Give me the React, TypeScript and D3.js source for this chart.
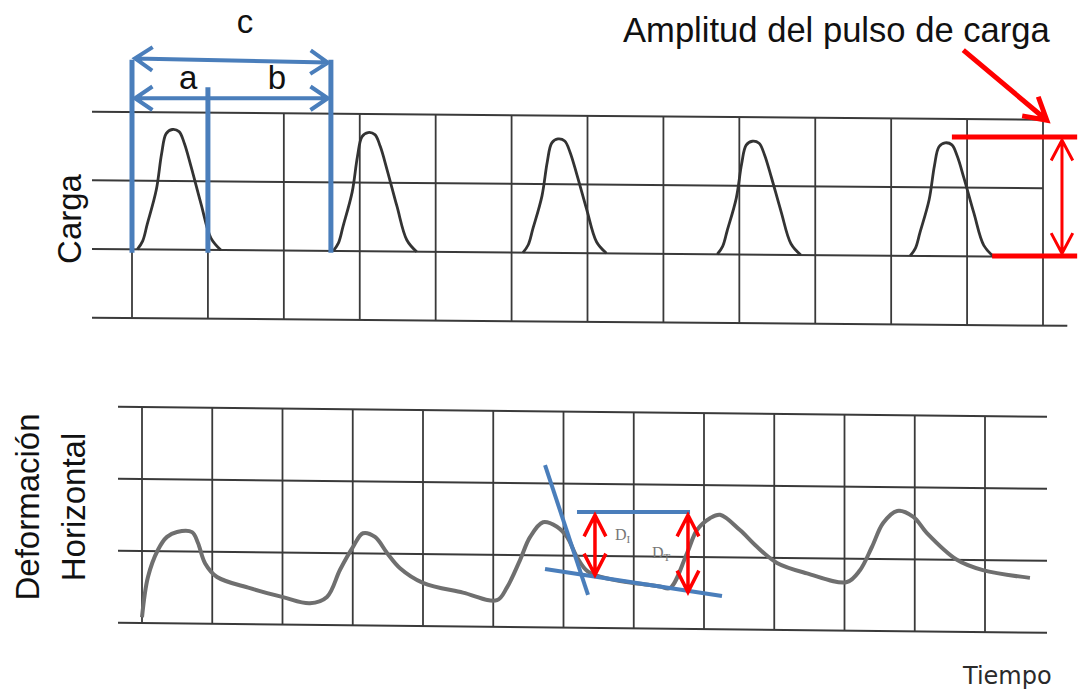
import * as d3 from "d3";

const W = 1079;
const H = 693;

// top panel (Carga): time and load in grid divisions, baseline = 0
const topCols = d3.range(0, 13);
const topRows = [-1, 0, 1, 2];
const topRowEnds = [12.32, 12.0, 12.0, 12.0];
const pulseStarts = [0.07, 2.65, 5.15, 7.71, 10.25];
const pulseAmps = [1.75, 1.73, 1.66, 1.65, 1.65];
const pulseT = [0, 0.07, 0.13, 0.25, 0.32, 0.38, 0.46, 0.55, 0.62, 0.71, 0.84, 0.97, 1.1];
const pulseV = [0, 0.12, 0.36, 0.86, 1.38, 1.67, 1.73, 1.7, 1.53, 1.19, 0.66, 0.17, 0];

// bottom panel (Deformación horizontal)
const botCols = d3.range(0, 13);
const botRows = [0, 1, 2, 3];
const deformT = [
  0, 0.085, 0.228, 0.356, 0.498, 0.712, 0.797, 0.897, 1.068, 1.537, 2.007, 2.391,
  2.633, 2.819, 3.004, 3.146, 3.317, 3.488, 3.673, 4.0, 4.569, 5.053, 5.196, 5.381,
  5.523, 5.708, 5.907, 6.05, 6.192, 6.349, 6.662, 7.089, 7.374, 7.516, 7.758, 7.9,
  8.085, 8.228, 8.512, 8.754, 9.039, 9.466, 10.036, 10.22, 10.39, 10.55, 10.75, 10.98,
  11.17, 11.6, 11.97, 12.64,
];
const deformV = [
  0.08, 0.64, 1.02, 1.2, 1.27, 1.27, 1.12, 0.84, 0.65, 0.5, 0.38, 0.3,
  0.39, 0.77, 1.09, 1.28, 1.23, 1.01, 0.8, 0.6, 0.47, 0.37, 0.55, 0.93,
  1.25, 1.46, 1.4, 1.26, 0.98, 0.78, 0.68, 0.62, 0.585, 0.565, 1.05, 1.375,
  1.54, 1.59, 1.38, 1.15, 0.93, 0.79, 0.675, 0.84, 1.165, 1.5, 1.67, 1.59,
  1.37, 1.0, 0.86, 0.76,
];

// annotations (panel units)
const cycleMarks = [0, 1, 2.62];
const cycleTops = [2.76, 2.36, 2.76];
const cycleLabels = ["c", "a", "b"];
const labelT = [1.49, 0.74, 1.91];
const labelV = [3.15, 2.33, 2.33];

type P = [number, number];

function chevron(tip: P, from: P, len: number, ang: number) {
  const a = Math.atan2(from[1] - tip[1], from[0] - tip[0]);
  const r = (ang * Math.PI) / 180;
  const p1 = [tip[0] + len * Math.cos(a + r), tip[1] + len * Math.sin(a + r)];
  const p2 = [tip[0] + len * Math.cos(a - r), tip[1] + len * Math.sin(a - r)];
  return `M${p1[0]},${p1[1]}L${tip[0]},${tip[1]}L${p2[0]},${p2[1]}`;
}

function arrow(a: P, b: P, len: number, ang: number, both: boolean) {
  let d = `M${a[0]},${a[1]}L${b[0]},${b[1]}`;
  d += chevron(b, a, len, ang);
  if (both) d += chevron(a, b, len, ang);
  return d;
}

export default function App() {
  const tx = d3.scaleLinear().domain([0, 12]).range([132, 1043]);
  const ty = d3.scaleLinear().domain([-1, 2]).range([318, 112]);
  const topTilt = 0.0084;
  const tp = (t: number, v: number): P => {
    const x = tx(t);
    return [x, ty(v) + topTilt * (x - tx(0))];
  };

  const bx = d3.scaleLinear().domain([0, 12]).range([142, 985]);
  const by = d3.scaleLinear().domain([0, 3]).range([623, 407]);
  const botTilt = 0.0108;
  const bp = (t: number, v: number): P => {
    const x = bx(t);
    return [x, by(v) + botTilt * (x - bx(0))];
  };

  const line = d3.line<P>().curve(d3.curveCatmullRom.alpha(0.5));
  const seg = (a: P, b: P) => `M${a[0]},${a[1]}L${b[0]},${b[1]}`;

  const gridColor = "#3a3a3a";
  const blue = "#4a7ebb";
  const red = "#ff0000";
  const sans = "'Liberation Sans', Arial, sans-serif";

  const pulses = pulseStarts.map((s, i) =>
    line(pulseT.map((t, j) => tp(s + t, (pulseV[j] * pulseAmps[i]) / 1.73)))
  );
  const deform = line(deformT.map((t, i) => bp(t, deformV[i])));

  const tP = (t: number, v: number): P => [tx(t), ty(v)];
  const bP = (t: number, v: number): P => [bx(t), by(v)];

  return (
    <svg
      width={W}
      height={H}
      style={{ position: "absolute", left: 0, top: 0, background: "#fff" }}
    >
      {/* top grid */}
      <g stroke={gridColor} strokeWidth={2} fill="none">
        {topRows.map((v, i) => (
          <path key={"tr" + i} d={seg(tp(tx.invert(92), v), tp(topRowEnds[i], v))} />
        ))}
        {topCols.map((t) => (
          <path key={"tc" + t} d={seg(tp(t, 2), tp(t, -1))} strokeWidth={1.8} />
        ))}
      </g>
      <g stroke="#333" strokeWidth={2.8} fill="none" strokeLinejoin="round">
        {pulses.map((d, i) => (
          <path key={"p" + i} d={d || ""} />
        ))}
      </g>

      {/* bottom grid */}
      <g stroke={gridColor} strokeWidth={2} fill="none">
        {botRows.map((v) => (
          <path key={"br" + v} d={seg(bp(bx.invert(118), v), bp(bx.invert(1047), v))} />
        ))}
        {botCols.map((t) => (
          <path key={"bc" + t} d={seg(bp(t, 3), bp(t, 0))} strokeWidth={1.8} />
        ))}
      </g>
      <path d={deform || ""} stroke="#6f6f6f" strokeWidth={4} fill="none" strokeLinejoin="round" />

      {/* cycle annotation (blue) */}
      <g stroke={blue} fill="none" strokeLinecap="butt">
        {cycleMarks.map((t, i) => (
          <path key={"cm" + i} d={seg(tP(t, cycleTops[i]), tP(t, -0.05))} strokeWidth={5} />
        ))}
        <path d={arrow(tP(0.04, 2.78), tP(2.58, 2.72), 21, 34, true)} strokeWidth={4} />
        <path d={arrow(tP(0.04, 2.2), tP(2.58, 2.2), 21, 34, true)} strokeWidth={4} />
      </g>
      {cycleLabels.map((s, i) => (
        <text
          key={"cl" + i}
          x={tx(labelT[i])}
          y={ty(labelV[i])}
          textAnchor="middle"
          fontFamily={sans}
          fontSize={33}
          fill="#111"
        >
          {s}
        </text>
      ))}

      {/* amplitude annotation (red) */}
      <g stroke={red} fill="none">
        <path d={seg(tP(10.8, 1.635), tP(12.45, 1.635))} strokeWidth={5} />
        <path d={seg(tP(11.33, -0.098), tP(12.45, -0.098))} strokeWidth={5} />
        <path d={arrow(tP(12.25, 1.59), tP(12.25, -0.06), 23, 28, true)} strokeWidth={3} />
        <path d={arrow(tP(10.95, 2.9), tP(12.05, 1.88), 25, 30, false)} strokeWidth={5} />
      </g>
      <text x={tx(6.468)} y={ty(3.02)} fontFamily={sans} fontSize={34.6} fill="#111">
        Amplitud del pulso de carga
      </text>

      {/* deformation annotation */}
      <g stroke={blue} fill="none" strokeWidth={4}>
        <path d={seg(bP(5.737, 2.194), bP(6.349, 0.389))} />
        <path d={seg(bP(6.192, 1.542), bP(7.801, 1.542))} />
        <path d={seg(bP(5.737, 0.75), bP(8.256, 0.375))} />
      </g>
      <g stroke={red} fill="none" strokeWidth={3.5}>
        <path d={arrow(bP(6.448, 1.5), bP(6.448, 0.667), 24, 27, true)} />
        <path d={arrow(bP(7.772, 1.5), bP(7.772, 0.43), 24, 27, true)} />
      </g>
      <g fontFamily="'Liberation Serif', serif" fontSize={16} fill="#777">
        <text x={bx(6.733)} y={by(1.15)}>
          D<tspan fontSize={11} dy={3}>I</tspan>
        </text>
        <text x={bx(7.26)} y={by(0.9)}>
          D<tspan fontSize={11} dy={3}>T</tspan>
        </text>
      </g>

      {/* axis labels */}
      <text
        transform="translate(81,219) rotate(-90)"
        textAnchor="middle"
        fontFamily={sans}
        fontSize={33}
        fill="#111"
      >
        Carga
      </text>
      <text
        transform="translate(39,507) rotate(-90)"
        textAnchor="middle"
        fontFamily={sans}
        fontSize={33}
        fill="#111"
      >
        Deformación
      </text>
      <text
        transform="translate(85,507) rotate(-90)"
        textAnchor="middle"
        fontFamily={sans}
        fontSize={33}
        fill="#111"
      >
        Horizontal
      </text>
      <text x={963} y={684} fontFamily="'DejaVu Sans', sans-serif" fontSize={24} fill="#2a2a2a">
        Tiempo
      </text>
    </svg>
  );
}
